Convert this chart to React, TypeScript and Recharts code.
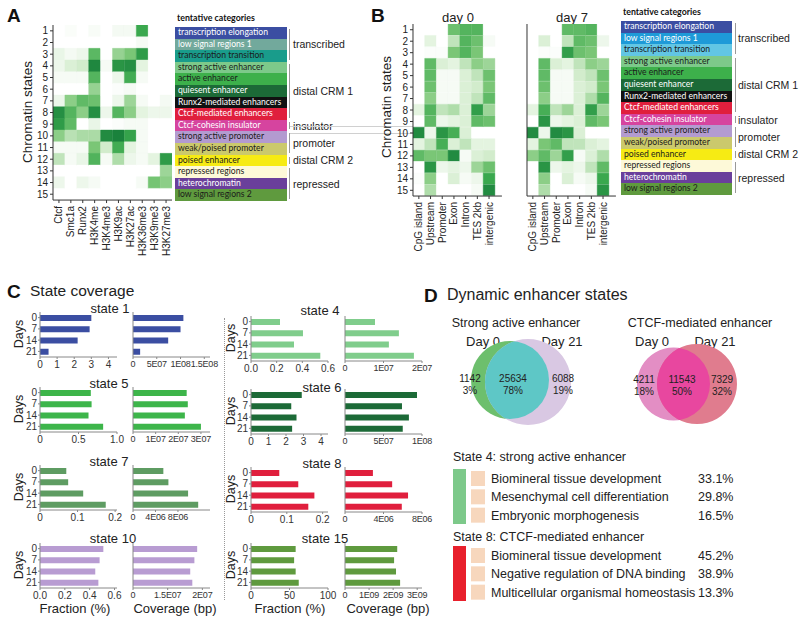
import React from 'react';
import { BarChart, Bar, XAxis, YAxis, Cell, PieChart, Pie, LabelList } from 'recharts';

const FONT = '"Liberation Sans", Arial, Helvetica, sans-serif';
const CAT_FONT = 'Lato, "Open Sans", sans-serif';

// ---------- Panel A ----------
const chromatinStates = [1, 2, 3, 4, 5, 6, 7, 8, 9, 10, 11, 12, 13, 14, 15];
const histoneMarks = ['Ctcf', 'Smc1a', 'Runx2', 'H3K4me', 'H3K4me3', 'H3K9ac', 'H3K27ac', 'H3K36me3', 'H3K9me3', 'H3K27me3'];
const markEmissions = [
  [0, 0.03, 0, 0.04, 0, 0.06, 0.06, 0.75, 0, 0],
  [0, 0, 0, 0, 0, 0, 0, 0.05, 0, 0],
  [0.12, 0.06, 0.1, 0.62, 0, 0.42, 0.5, 0.82, 0, 0],
  [0.1, 0.2, 0.25, 0.92, 0.05, 0.85, 0.88, 0.15, 0, 0],
  [0.05, 0.05, 0.05, 0.65, 0, 0.1, 0.72, 0.05, 0, 0],
  [0, 0, 0, 0.42, 0, 0.02, 0.05, 0, 0, 0],
  [0.1, 0.45, 0.6, 0.55, 0, 0.1, 0.4, 0.05, 0, 0.06],
  [0.88, 0.65, 0.45, 0.88, 0.1, 0.65, 0.45, 0.15, 0.1, 0.1],
  [0.82, 0.6, 0, 0.12, 0, 0.02, 0.05, 0.05, 0, 0],
  [0.45, 0.32, 0.36, 0.36, 0.9, 0.95, 0.78, 0.05, 0, 0],
  [0.05, 0.05, 0.05, 0.5, 0.25, 0.72, 0.15, 0.05, 0, 0],
  [0.3, 0.05, 0.12, 0.66, 0.05, 0.35, 0.1, 0.05, 0.15, 0.82],
  [0, 0, 0, 0, 0, 0, 0, 0, 0, 0.4],
  [0.1, 0, 0.1, 0.05, 0, 0, 0, 0.05, 0.52, 0.45],
  [0, 0, 0, 0, 0, 0, 0, 0, 0, 0],
];

// ---------- Panel B ----------
const genomicFeatures = ['CpG island', 'Upstream', 'Promoter', 'Exon', 'Intron', 'TES 2kb', 'intergenic'];
const enrichmentDay0 = [
  [0, 0, 0, 0.55, 0.65, 0.65, 0],
  [0, 0.15, 0, 0.3, 0.65, 0.55, 0.05],
  [0, 0.02, 0.02, 0.5, 0.65, 0.5, 0],
  [0, 0.6, 0.2, 0.15, 0.3, 0.45, 0.4],
  [0, 0.6, 0.05, 0.05, 0.2, 0.3, 0.55],
  [0, 0.55, 0.05, 0.05, 0.2, 0.25, 0.5],
  [0, 0.45, 0.05, 0.05, 0.2, 0.3, 0.6],
  [0.15, 0.65, 0.3, 0.35, 0.2, 0.8, 0.4],
  [0, 0.6, 0.1, 0.15, 0.2, 0.6, 0.55],
  [0.9, 0.1, 0.85, 0.7, 0.2, 0, 0],
  [0.15, 0.3, 0.7, 0.2, 0.3, 0.15, 0.15],
  [0.6, 0.5, 0.5, 0.9, 0.05, 0.2, 0.25],
  [0, 0.85, 0.1, 0.15, 0.1, 0.4, 0.55],
  [0.02, 0.45, 0, 0.2, 0.05, 0.1, 0.75],
  [0, 0.35, 0, 0, 0, 0.05, 0.9],
];
const enrichmentDay7 = [
  [0, 0, 0, 0.6, 0.6, 0.65, 0],
  [0, 0.2, 0, 0.3, 0.6, 0.55, 0.1],
  [0, 0.02, 0.02, 0.8, 0.55, 0.5, 0],
  [0, 0.6, 0.2, 0.15, 0.3, 0.45, 0.4],
  [0, 0.6, 0.05, 0.05, 0.25, 0.3, 0.55],
  [0, 0.55, 0.05, 0.05, 0.2, 0.25, 0.5],
  [0, 0.45, 0.05, 0.05, 0.2, 0.35, 0.65],
  [0.15, 0.7, 0.3, 0.4, 0.2, 0.8, 0.4],
  [0, 0.85, 0.1, 0.15, 0.2, 0.6, 0.5],
  [0.9, 0.1, 0.9, 0.85, 0.2, 0, 0],
  [0.15, 0.5, 0.6, 0.3, 0.3, 0.2, 0.15],
  [0.45, 0.6, 0.4, 0.8, 0.05, 0.2, 0.35],
  [0, 0.85, 0.1, 0.15, 0.1, 0.3, 0.6],
  [0, 0.45, 0, 0.2, 0.05, 0.1, 0.75],
  [0, 0.35, 0, 0, 0, 0.05, 0.85],
];

// ---------- categories ----------
const categoryNames = [
  'transcription elongation', 'low signal regions 1', 'transcription transition', 'strong active enhancer',
  'active enhancer', 'quiesent enhancer', 'Runx2-mediated enhancers', 'Ctcf-mediated enhancers',
  'Ctcf-cohesin  insulator', 'strong active promoter', 'weak/poised promoter', 'poised enhancer',
  'repressed regions', 'heterochromatin', 'low signal regions 2',
];
const categoryFillA = ['#3b4ea2', '#72a99c', '#199c8b', '#7dc98a', '#3db04b', '#1c6a37', '#111111', '#e01f3d', '#d6449f', '#b39bd0', '#cbc96c', '#f6eb14', '#fdf9d8', '#6a3f9b', '#5f9a3e'];
const categoryFillB = ['#3b4ea2', '#1e9ad8', '#62c6e4', '#7dc98a', '#3db04b', '#1c6a37', '#111111', '#e01f3d', '#d6449f', '#b39bd0', '#cbc96c', '#f6eb14', '#fdf9d8', '#6a3f9b', '#5f9a3e'];
const categoryTextColor = ['#ffffff', '#ffffff', '#1b1b1b', '#1b1b1b', '#1b1b1b', '#ffffff', '#ffffff', '#ffffff', '#ffffff', '#1b1b1b', '#1b1b1b', '#1b1b1b', '#1b1b1b', '#ffffff', '#1b1b1b'];
const groupLabels = ['transcribed', 'distal CRM 1', 'insulator', 'promoter', 'distal CRM 2', 'repressed'];
const groupFirstState = [1, 4, 9, 10, 12, 13];
const groupLastState = [3, 8, 9, 11, 12, 15];

// ---------- Panel C ----------
const days = ['0', '7', '14', '21'];
const state1Fraction = [3.0, 2.9, 2.2, 0.5];
const state1Coverage = [1.06e8, 1.0e8, 0.74e8, 0.15e8];
const state5Fraction = [0.66, 0.67, 0.63, 0.82];
const state5Coverage = [2.37e7, 2.42e7, 2.29e7, 3.0e7];
const state7Fraction = [0.07, 0.075, 0.115, 0.175];
const state7Coverage = [5.4e6, 6.3e6, 9.8e6, 11.6e6];
const state10Fraction = [0.51, 0.48, 0.445, 0.47];
const state10Coverage = [1.85e7, 1.77e7, 1.65e7, 1.71e7];
const state4Fraction = [0.226, 0.405, 0.335, 0.54];
const state4Coverage = [0.78e7, 1.4e7, 1.14e7, 1.79e7];
const state6Fraction = [2.9, 2.3, 2.6, 2.35];
const state6Coverage = [9.35e7, 7.4e7, 8.3e7, 7.5e7];
const state8Fraction = [0.079, 0.132, 0.177, 0.16];
const state8Coverage = [2.9e6, 4.9e6, 6.55e6, 5.9e6];
const state15Fraction = [58, 56, 58, 62];
const state15Coverage = [2.17e9, 2.04e9, 2.12e9, 2.29e9];

// ---------- Panel D ----------
const strongEnhancerCounts = ['1142', '25634', '6088'];
const strongEnhancerPercents = ['3%', '78%', '19%'];
const ctcfEnhancerCounts = ['4211', '11543', '7329'];
const ctcfEnhancerPercents = ['18%', '50%', '32%'];
const state4Terms = ['Biomineral tissue development', 'Mesenchymal cell differentiation', 'Embryonic morphogenesis'];
const state4TermPercents = ['33.1%', '29.8%', '16.5%'];
const state8Terms = ['Biomineral tissue development', 'Negative regulation of DNA binding', 'Multicellular organismal homeostasis'];
const state8TermPercents = ['45.2%', '38.9%', '13.3%'];

// ---------- helpers ----------
const greenStops: [number, number[]][] = [
  [0, [255, 255, 255]],
  [0.25, [210, 236, 204]],
  [0.5, [122, 198, 118]],
  [0.75, [58, 168, 78]],
  [1, [18, 120, 56]],
];
function greenScale(t: number) {
  const v = Math.max(0, Math.min(1, t));
  for (let i = 1; i < greenStops.length; i++) {
    const [t1, c1] = greenStops[i];
    const [t0, c0] = greenStops[i - 1];
    if (v <= t1) {
      const f = (v - t0) / (t1 - t0);
      const c = c0.map((a, k) => Math.round(a + (c1[k] - a) * f));
      return `rgb(${c[0]},${c[1]},${c[2]})`;
    }
  }
  return 'rgb(18,120,56)';
}

type TxtProps = { x: number; y: number; size?: number; anchor?: 'start' | 'middle' | 'end'; bold?: boolean; color?: string; font?: string; rotate?: number; children: React.ReactNode };
const Txt = ({ x, y, size = 12, anchor = 'start', bold = false, color = '#222', font = FONT, rotate = 0, children }: TxtProps) => {
  const tx = anchor === 'middle' ? '-50%' : anchor === 'end' ? '-100%' : '0';
  return (
    <div
      style={{
        position: 'absolute', left: x, top: y,
        transform: `translate(${tx},-50%)${rotate ? ` rotate(${rotate}deg)` : ''}`,
        fontSize: size, fontWeight: bold ? 700 : 400, color, fontFamily: font,
        whiteSpace: 'nowrap', lineHeight: 1,
      }}
    >
      {children}
    </div>
  );
};

const RotTick = (props: any) => {
  const { x, y, payload, labels } = props;
  const label = labels[Math.floor(payload.value)];
  return (
    <text x={x} y={y} transform={`rotate(-90 ${x} ${y})`} textAnchor="end" dy="0.35em" dx={-1} fontSize={10} fill="#222" fontFamily={FONT}>
      {label}
    </text>
  );
};

type HeatProps = { cols: string[]; values: number[][]; plotLeft: number; plotTop: number; cellW: number; cellH: number; axisExtra: number; showY: boolean; yAxisW: number };
function Heatmap({ cols, values, plotLeft, plotTop, cellW, cellH, axisExtra, showY, yAxisW }: HeatProps) {
  const data = chromatinStates.map((s) => {
    const row: any = { state: String(s) };
    cols.forEach((_, j) => (row['c' + j] = 1));
    return row;
  });
  const plotW = cellW * (cols.length + axisExtra);
  const plotH = cellH * chromatinStates.length;
  const XH = 64;
  const MR = 4;
  return (
    <div style={{ position: 'absolute', left: plotLeft - yAxisW, top: plotTop }}>
      <BarChart layout="vertical" width={yAxisW + plotW + MR} height={plotH + XH} data={data} margin={{ top: 0, right: MR, left: 0, bottom: 0 }} barCategoryGap={0}>
        <XAxis type="number" domain={[0, cols.length + axisExtra]} ticks={cols.map((_, j) => j + 0.5)} interval={0} height={XH} tick={<RotTick labels={cols} />} tickSize={3} stroke="#333" allowDataOverflow />
        <YAxis type="category" dataKey="state" width={yAxisW} tick={showY ? { fontSize: 10, fill: '#222', fontFamily: FONT } : false} tickSize={3} stroke="#333" interval={0} />
        {cols.map((c, j) => (
          <Bar key={c} dataKey={'c' + j} stackId="h" isAnimationActive={false}>
            {values.map((row, i) => (
              <Cell key={i} fill={greenScale(row[j])} stroke={greenScale(row[j])} strokeWidth={0.4} />
            ))}
          </Bar>
        ))}
      </BarChart>
    </div>
  );
}

type CatProps = { left: number; top: number; width: number; rowH: number; fills: string[]; bracketX: number; labelX: number };
function CategoryBox({ left, top, width, rowH, fills, bracketX, labelX }: CatProps) {
  return (
    <>
      <Txt x={left + 2} y={top - 9} size={8.8} bold font={CAT_FONT} color="#111">tentative categories</Txt>
      {categoryNames.map((n, i) => (
        <div key={n} style={{ position: 'absolute', left, top: top + i * rowH, width, height: rowH + 0.5, background: fills[i], color: categoryTextColor[i], fontFamily: CAT_FONT, fontSize: 8.6, lineHeight: `${rowH}px`, paddingLeft: 3, boxSizing: 'border-box', whiteSpace: 'nowrap', overflow: 'hidden' }}>
          {n}
        </div>
      ))}
      {groupLabels.map((g, k) => {
        const y0 = top + (groupFirstState[k] - 1) * rowH + 2;
        const y1 = top + groupLastState[k] * rowH - 2;
        return (
          <React.Fragment key={g}>
            <div style={{ position: 'absolute', left: bracketX, top: y0, width: 0, height: y1 - y0, borderLeft: '1px solid #999' }} />
            <Txt x={labelX} y={(y0 + y1) / 2} size={10.5}>{g}</Txt>
          </React.Fragment>
        );
      })}
    </>
  );
}

type DayBarsProps = { values: number[]; color: string; domain: [number, number]; ticks: number[]; tickLabels: string[]; plotLeft: number; plotTop: number; showDays: boolean };
function DayBars({ values, color, domain, ticks, tickLabels, plotLeft, plotTop, showDays }: DayBarsProps) {
  const data = days.map((d, i) => ({ day: d, v: values[i] }));
  const yW = showDays ? 22 : 4;
  const PLOT_W = 77;
  const PLOT_H = 45;
  const XH = 16;
  const MR = 20;
  const tickFont = showDays ? 10 : 9;
  return (
    <div style={{ position: 'absolute', left: plotLeft - yW, top: plotTop }}>
      <BarChart layout="vertical" width={yW + PLOT_W + MR} height={PLOT_H + XH} data={data} margin={{ top: 0, right: MR, left: 0, bottom: 0 }} barSize={6}>
        <XAxis type="number" domain={domain} ticks={ticks} interval={0} allowDataOverflow tickFormatter={(v: number) => tickLabels[ticks.indexOf(v)]} height={XH} tick={{ fontSize: tickFont, fill: '#333', fontFamily: FONT, letterSpacing: showDays ? 0 : -0.2 }} tickSize={2} stroke="#888" />
        <YAxis type="category" dataKey="day" width={yW} tick={showDays ? { fontSize: 10, fill: '#333', fontFamily: FONT } : false} tickSize={2} tickMargin={1} stroke="#888" interval={0} />
        <Bar dataKey="v" fill={color} isAnimationActive={false} />
      </BarChart>
    </div>
  );
}

const leftFrac = 40;
const leftCov = 133;
const rightFrac = 251;
const rightCov = 345;

type GoProps = { terms: string[]; pcts: string[]; color: string; top: number };
function GoList({ terms, pcts, color, top }: GoProps) {
  const data = terms.map((t, i) => ({ term: t, pct: pcts[i], box: 1 }));
  const TermLabel = (p: any) => (
    <text x={p.x + p.width + 6} y={p.y + p.height / 2} dy="0.36em" fontSize={12.5} fill="#222" fontFamily={FONT}>{p.value}</text>
  );
  const PctLabel = (p: any) => (
    <text x={p.x + 227} y={p.y + p.height / 2} dy="0.36em" fontSize={12.5} fill="#222" fontFamily={FONT}>{p.value}</text>
  );
  return (
    <>
      <div style={{ position: 'absolute', left: 453, top, width: 13, height: 55, background: color }} />
      <div style={{ position: 'absolute', left: 471, top }}>
        <BarChart layout="vertical" width={330} height={55} data={data} margin={{ top: 0, right: 316, left: 0, bottom: 0 }} barSize={15}>
          <XAxis type="number" domain={[0, 1]} hide />
          <YAxis type="category" dataKey="term" hide />
          <Bar dataKey="box" fill="#f7d7bd" isAnimationActive={false}>
            <LabelList dataKey="term" content={TermLabel} />
            <LabelList dataKey="pct" content={PctLabel} />
          </Bar>
        </BarChart>
      </div>
    </>
  );
}

export default function App() {
  return (
    <div style={{ position: 'absolute', left: 0, top: 0, width: 800, height: 623, overflow: 'hidden', background: '#fff', fontFamily: FONT }}>
      <style>{`.ov-sae path{clip-path:url(#clipSaeDay0);} .ov-ctcf path{clip-path:url(#clipCtcfDay0);}`}</style>
      <svg width={0} height={0} style={{ position: 'absolute' }}>
        <defs>
          <clipPath id="clipSaeDay0" clipPathUnits="userSpaceOnUse"><circle cx={70} cy={50} r={39} /></clipPath>
          <clipPath id="clipCtcfDay0" clipPathUnits="userSpaceOnUse"><circle cx={233.5} cy={54} r={36.5} /></clipPath>
        </defs>
      </svg>

      {/* Panel A */}
      <Txt x={7} y={15} size={19} bold color="#111">A</Txt>
      <Txt x={28} y={112} size={13.5} anchor="middle" rotate={-90}>Chromatin states</Txt>
      <Heatmap cols={histoneMarks} values={markEmissions} plotLeft={53} plotTop={25} cellW={11.9} cellH={11.67} axisExtra={0} showY yAxisW={30} />
      <CategoryBox left={175} top={27} width={112} rowH={11.6} fills={categoryFillA} bracketX={289} labelX={293} />

      {/* connecting lines */}
      <div style={{ position: 'absolute', left: 290, top: 126, width: 165, height: 0, borderTop: '1px solid #d0d0d0' }} />
      <div style={{ position: 'absolute', left: 290, top: 133, width: 165, height: 0, borderTop: '1px solid #d0d0d0' }} />

      {/* Panel B */}
      <Txt x={371} y={15} size={19} bold color="#111">B</Txt>
      <Txt x={458} y={17} size={13} anchor="middle">day 0</Txt>
      <Txt x={572} y={17} size={13} anchor="middle">day 7</Txt>
      <Txt x={387} y={107} size={13.5} anchor="middle" rotate={-90}>Chromatin states</Txt>
      <Heatmap cols={genomicFeatures} values={enrichmentDay0} plotLeft={413} plotTop={24} cellW={11.7} cellH={11.47} axisExtra={0.6} showY yAxisW={22} />
      <Heatmap cols={genomicFeatures} values={enrichmentDay7} plotLeft={527} plotTop={24} cellW={11.7} cellH={11.47} axisExtra={0.6} showY={false} yAxisW={2} />
      <CategoryBox left={621} top={21} width={111} rowH={11.6} fills={categoryFillB} bracketX={735} labelX={738} />

      {/* Panel C */}
      <Txt x={7} y={291} size={19} bold color="#111">C</Txt>
      <Txt x={30} y={291} size={15.5}>State coverage</Txt>
      <div style={{ position: 'absolute', left: 224, top: 318, width: 0, height: 282, borderLeft: '1px dotted #999' }} />

      <Txt x={110} y={308} size={13} anchor="middle">state 1</Txt>
      <Txt x={109} y={383} size={13} anchor="middle">state 5</Txt>
      <Txt x={109} y={461} size={13} anchor="middle">state 7</Txt>
      <Txt x={113} y={538} size={13} anchor="middle">state 10</Txt>
      <Txt x={320} y={310} size={13} anchor="middle">state 4</Txt>
      <Txt x={322} y={387} size={13} anchor="middle">state 6</Txt>
      <Txt x={322} y={463} size={13} anchor="middle">state 8</Txt>
      <Txt x={325} y={538} size={13} anchor="middle">state 15</Txt>

      {[334, 409, 487, 565].map((y) => (
        <Txt key={'dl' + y} x={19} y={y} size={12.5} anchor="middle" rotate={-90}>Days</Txt>
      ))}
      {[338, 411, 489, 565].map((y) => (
        <Txt key={'dr' + y} x={231} y={y} size={12.5} anchor="middle" rotate={-90}>Days</Txt>
      ))}

      <DayBars values={state1Fraction} color="#3b4ea2" domain={[0, 4.5]} ticks={[0, 1, 2, 3, 4]} tickLabels={['0', '1', '2', '3', '4']} plotLeft={leftFrac} plotTop={311.5} showDays />
      <DayBars values={state1Coverage} color="#3b4ea2" domain={[0, 1.62e8]} ticks={[0, 5e7, 1e8, 1.5e8]} tickLabels={['0', '5E07', '1E08', '1.5E08']} plotLeft={leftCov} plotTop={311.5} showDays={false} />
      <DayBars values={state5Fraction} color="#3db54a" domain={[0, 1]} ticks={[0, 0.5, 1]} tickLabels={['0', '0.5', '1.0']} plotLeft={leftFrac} plotTop={386.5} showDays />
      <DayBars values={state5Coverage} color="#3db54a" domain={[0, 3.4e7]} ticks={[0, 1e7, 2e7, 3e7]} tickLabels={['0', '1E07', '2E07', '3E07']} plotLeft={leftCov} plotTop={386.5} showDays={false} />
      <DayBars values={state7Fraction} color="#5e9c62" domain={[0, 0.205]} ticks={[0, 0.1, 0.2]} tickLabels={['0', '0.1', '0.2']} plotLeft={leftFrac} plotTop={464.5} showDays />
      <DayBars values={state7Coverage} color="#5e9c62" domain={[0, 1.37e7]} ticks={[0, 4e6, 8e6]} tickLabels={['0', '4E06', '8E06']} plotLeft={leftCov} plotTop={464.5} showDays={false} />
      <DayBars values={state10Fraction} color="#b89cd2" domain={[0, 0.62]} ticks={[0, 0.2, 0.4, 0.6]} tickLabels={['0.0', '0.2', '0.4', '0.6']} plotLeft={leftFrac} plotTop={542.5} showDays />
      <DayBars values={state10Coverage} color="#b89cd2" domain={[0, 2.22e7]} ticks={[0, 1e7, 2e7]} tickLabels={['0', '1.5E07', '2E07']} plotLeft={leftCov} plotTop={542.5} showDays={false} />

      <DayBars values={state4Fraction} color="#80cd8c" domain={[0, 0.6]} ticks={[0, 0.2, 0.4, 0.6]} tickLabels={['0.0', '0.2', '0.4', '0.6']} plotLeft={rightFrac} plotTop={315.5} showDays />
      <DayBars values={state4Coverage} color="#80cd8c" domain={[0, 2e7]} ticks={[0, 1e7, 2e7]} tickLabels={['0', '1E07', '2E07']} plotLeft={rightCov} plotTop={315.5} showDays={false} />
      <DayBars values={state6Fraction} color="#1c6a37" domain={[0, 4.4]} ticks={[0, 1, 2, 3, 4]} tickLabels={['0', '1', '2', '3', '4']} plotLeft={rightFrac} plotTop={388.5} showDays />
      <DayBars values={state6Coverage} color="#1c6a37" domain={[0, 1e8]} ticks={[0, 5e7, 1e8]} tickLabels={['0', '5E07', '1E08']} plotLeft={rightCov} plotTop={388.5} showDays={false} />
      <DayBars values={state8Fraction} color="#e01f3d" domain={[0, 0.215]} ticks={[0, 0.1, 0.2]} tickLabels={['0', '0.1', '0.2']} plotLeft={rightFrac} plotTop={466.5} showDays />
      <DayBars values={state8Coverage} color="#e01f3d" domain={[0, 8e6]} ticks={[0, 4e6, 8e6]} tickLabels={['0', '4E06', '8E06']} plotLeft={rightCov} plotTop={466.5} showDays={false} />
      <DayBars values={state15Fraction} color="#5f9a3e" domain={[0, 100]} ticks={[0, 50, 100]} tickLabels={['0', '50', '100']} plotLeft={rightFrac} plotTop={542.5} showDays />
      <DayBars values={state15Coverage} color="#5f9a3e" domain={[0, 3.2e9]} ticks={[0, 1e9, 2e9, 3e9]} tickLabels={['0', '1E09', '2E09', '3E09']} plotLeft={rightCov} plotTop={542.5} showDays={false} />

      <Txt x={75} y={608} size={13} anchor="middle">Fraction (%)</Txt>
      <Txt x={175} y={608} size={13} anchor="middle">Coverage (bp)</Txt>
      <Txt x={290} y={608} size={13} anchor="middle">Fraction (%)</Txt>
      <Txt x={388} y={608} size={13} anchor="middle">Coverage (bp)</Txt>

      {/* Panel D */}
      <Txt x={424} y={295} size={19} bold color="#111">D</Txt>
      <Txt x={447} y={295} size={16}>Dynamic enhancer states</Txt>
      <Txt x={516} y={323} size={12.5} anchor="middle">Strong active enhancer</Txt>
      <Txt x={700} y={323} size={12.5} anchor="middle">CTCF-mediated enhancer</Txt>
      <Txt x={483} y={341} size={13} anchor="middle">Day 0</Txt>
      <Txt x={562} y={341} size={13} anchor="middle">Day 21</Txt>
      <Txt x={652} y={341} size={13} anchor="middle">Day 0</Txt>
      <Txt x={715} y={341} size={13} anchor="middle">Day 21</Txt>

      <div style={{ position: 'absolute', left: 440, top: 330 }}>
        <PieChart width={360} height={110} margin={{ top: 0, right: 0, left: 0, bottom: 0 }}>
          <Pie data={[{ v: 1 }]} dataKey="v" cx={70} cy={50} outerRadius={39} startAngle={90} endAngle={-270} stroke="none" isAnimationActive={false}>
            <Cell fill="#6dbf6d" />
          </Pie>
          <Pie data={[{ v: 1 }]} dataKey="v" cx={88} cy={52} outerRadius={43} startAngle={90} endAngle={-270} stroke="none" isAnimationActive={false}>
            <Cell fill="#d9c8e3" />
          </Pie>
          <Pie className="ov-sae" data={[{ v: 1 }]} dataKey="v" cx={88} cy={52} outerRadius={43} startAngle={90} endAngle={-270} stroke="none" isAnimationActive={false}>
            <Cell fill="#5ec7c6" />
          </Pie>
          <Pie data={[{ v: 1 }]} dataKey="v" cx={233.5} cy={54} outerRadius={36.5} startAngle={90} endAngle={-270} stroke="none" isAnimationActive={false}>
            <Cell fill="#e38ec4" />
          </Pie>
          <Pie data={[{ v: 1 }]} dataKey="v" cx={257} cy={54} outerRadius={40} startAngle={90} endAngle={-270} stroke="none" isAnimationActive={false}>
            <Cell fill="#e07c8e" />
          </Pie>
          <Pie className="ov-ctcf" data={[{ v: 1 }]} dataKey="v" cx={257} cy={54} outerRadius={40} startAngle={90} endAngle={-270} stroke="none" isAnimationActive={false}>
            <Cell fill="#e8479f" />
          </Pie>
        </PieChart>
      </div>

      {[470, 513, 563].map((x, i) => (
        <React.Fragment key={'sae' + i}>
          <Txt x={x} y={379} size={10} anchor="middle">{strongEnhancerCounts[i]}</Txt>
          <Txt x={x} y={391} size={10} anchor="middle">{strongEnhancerPercents[i]}</Txt>
        </React.Fragment>
      ))}
      {[644, 682, 722].map((x, i) => (
        <React.Fragment key={'ctcf' + i}>
          <Txt x={x} y={380} size={10} anchor="middle">{ctcfEnhancerCounts[i]}</Txt>
          <Txt x={x} y={392} size={10} anchor="middle">{ctcfEnhancerPercents[i]}</Txt>
        </React.Fragment>
      ))}

      <Txt x={453} y={457} size={12.5}>State 4: strong active enhancer</Txt>
      <GoList terms={state4Terms} pcts={state4TermPercents} color="#7dc98a" top={469} />
      <Txt x={453} y={537} size={12.5}>State 8: CTCF-mediated enhancer</Txt>
      <GoList terms={state8Terms} pcts={state8TermPercents} color="#e8202c" top={546} />
    </div>
  );
}
